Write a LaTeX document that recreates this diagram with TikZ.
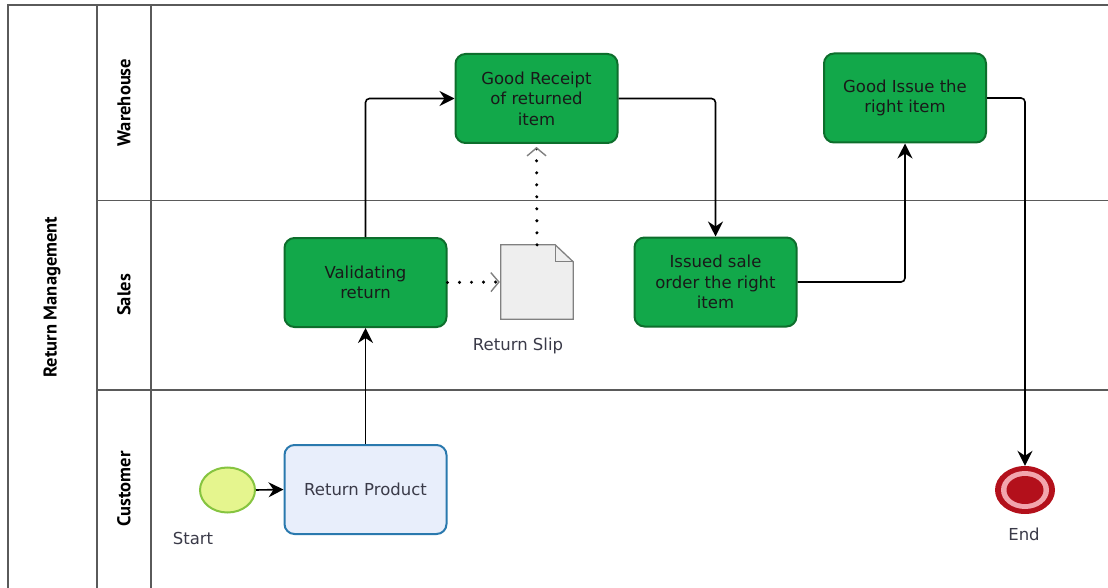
\documentclass[tikz,border=0pt]{standalone}
\usepackage{fontspec}
\setmainfont{DejaVu Sans}
\newfontfamily\lanefont{PT Sans}
\usetikzlibrary{arrows.meta,shapes.geometric}
\definecolor{taskgreen}{HTML}{12A84A}
\definecolor{taskborder}{HTML}{0D6E2C}
\definecolor{rpfill}{HTML}{E8EEFB}
\definecolor{rpborder}{HTML}{2A79AE}
\definecolor{startfill}{HTML}{E5F58E}
\definecolor{startborder}{HTML}{86C440}
\definecolor{endred}{HTML}{B3101B}
\definecolor{endpink}{HTML}{F2A6AE}
\definecolor{docfill}{HTML}{EEEEEE}
\definecolor{docborder}{HTML}{808080}
\definecolor{laneline}{HTML}{5A5A5A}
\definecolor{labeltext}{HTML}{3A3A48}
\begin{document}
\begin{tikzpicture}[x=1pt,y=-1pt,
  task/.style={rectangle, rounded corners=10pt, minimum width=162pt, minimum height=89pt,
    align=center, font=\fontsize{16.5}{20.5}\selectfont, text=black!90, line width=2pt},
  greentask/.style={task, fill=taskgreen, draw=taskborder},
  bluetask/.style={task, fill=rpfill, draw=rpborder, text=labeltext},
  flow/.style={draw=black, line width=1.6pt, rounded corners=4pt,
    -{Stealth[length=15pt,width=15pt,inset=5pt]}},
  assoc/.style={draw=black, line width=3.4pt, line cap=round, dash pattern=on 0pt off 12pt,
    -{Straight Barb[length=8pt,width=19pt,line width=1.4pt,color=docborder]}, shorten >=1pt},
  lanelabel/.style={font=\lanefont\bfseries\fontsize{18.5}{20}\selectfont, rotate=90},
  eventlabel/.style={font=\fontsize{16.5}{20}\selectfont, text=labeltext},
  lanestroke/.style={draw=laneline, line width=1.5pt}
]
\useasboundingbox (0,0) rectangle (1108,588);
% pool and lanes
\draw[lanestroke] (8,588) -- (8,5) -- (1108,5);
\draw[lanestroke] (97,5) -- (97,588);
\draw[lanestroke] (151,5) -- (151,588);
\draw[lanestroke] (97,200.5) -- (1108,200.5);
\draw[lanestroke] (97,390) -- (1108,390);
\node[lanelabel] (pool) at (52,297) {Return Management};
\node[lanelabel] (lw) at (124,102.5) {Warehouse};
\node[lanelabel] (ls) at (124,295) {Sales};
\node[lanelabel] (lc) at (124,489) {Customer};
% events
\node[ellipse, minimum width=55pt, minimum height=45pt, fill=startfill, draw=startborder, line width=2pt] (start) at (227.5,490) {};
\node[eventlabel] (startlbl) at (193,538) {Start};
\node[ellipse, minimum width=60pt, minimum height=48pt, fill=endred, draw=none] (end) at (1025,490) {};
\fill[endpink] (end.center) ellipse (24 and 19);
\fill[endred] (end.center) ellipse (18.5 and 14);
\node[eventlabel] (endlbl) at (1024,534) {End};
% tasks
\node[bluetask] (rp) at (365.5,489.5) {Return Product};
\node[greentask] (vr) at (365.5,282.5) {Validating\\return};
\node[greentask] (gr) at (536.5,98.5) {Good Receipt\\of returned\\item};
\node[greentask] (is) at (715.5,282) {Issued sale\\order the right\\item};
\node[greentask] (gi) at (905,98) {Good Issue the\\right item};
% document
\node[minimum width=72pt, minimum height=74pt] (slip) at (537,282) {};
\draw[fill=docfill, draw=docborder, line width=1.3pt]
  (slip.north west) -- ([xshift=-18pt]slip.north east) -- ([yshift=-17pt]slip.north east)
  -- (slip.south east) -- (slip.south west) -- cycle;
\draw[draw=docborder, line width=1.1pt]
  ([xshift=-18pt]slip.north east) -- ([xshift=-18pt,yshift=-17pt]slip.north east) -- ([yshift=-17pt]slip.north east);
\node[eventlabel] (sliplbl) at (518,346) {Return Slip};
% flows
\draw[flow] (start.east) -- (rp.west);
\draw[flow] (rp.north) -- (vr.south);
\draw[flow] (vr.north) |- (gr.west);
\draw[flow] (gr.east) -| (is.north);
\draw[flow] (is.east) -| (gi.south);
\draw[flow] (gi.east) -| (end.north);
% associations
\draw[assoc] (vr.east) -- (slip.west);
\draw[assoc, shorten >=3pt] (slip.north) -- (gr.south);
\end{tikzpicture}
\end{document}
